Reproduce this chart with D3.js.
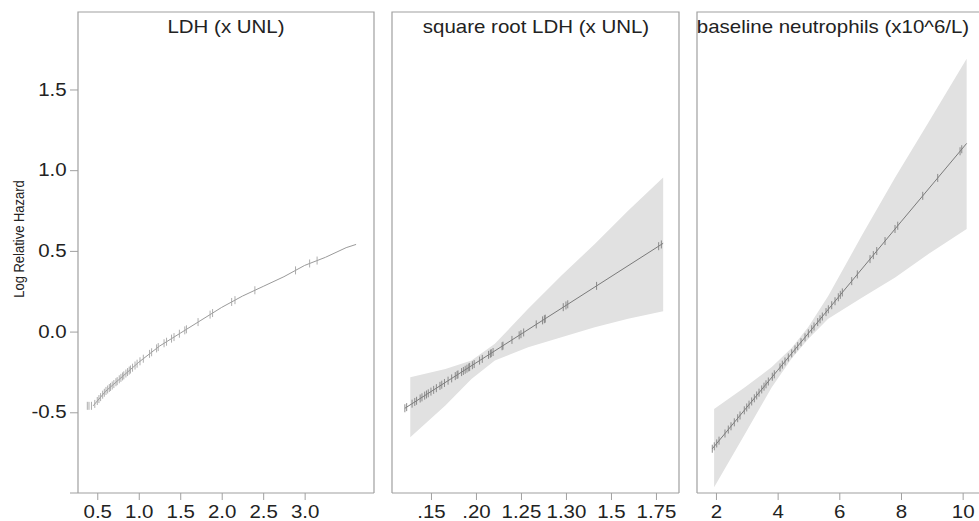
<!DOCTYPE html>
<html>
<head>
<meta charset="utf-8">
<script src="https://cdnjs.cloudflare.com/ajax/libs/d3/7.8.5/d3.min.js"></script>
<style>
  html, body { margin: 0; padding: 0; background: #fff; }
  svg { display: block; }
  text { font-family: "Liberation Sans", Arial, sans-serif; fill: #222; }
</style>
</head>
<body>
<div class="container"></div>
<script>
// shared y axis
const yTicks = [-0.5, 0.0, 0.5, 1.0, 1.5];
const yTitle = 'Log Relative Hazard';
const panelTitles = ['LDH (x UNL)', 'square root LDH (x UNL)', 'baseline neutrophils (x10^6/L)'];

// panel 1: LDH
const ldhTicks = [0.5, 1.0, 1.5, 2.0, 2.5, 3.0];
const ldhCurve = [[0.45,-0.46],[0.6,-0.37],[0.8,-0.28],[1.0,-0.19],[1.25,-0.09],[1.5,-0.01],[1.75,0.07],
  [2.0,0.15],[2.25,0.22],[2.5,0.28],[2.75,0.34],[3.0,0.41],[3.25,0.46],[3.5,0.52],[3.62,0.54]];
const ldhRug = [0.38,0.40,0.43,0.47,0.50,0.52,0.54,0.565,0.585,0.605,0.625,0.645,0.66,0.68,0.70,0.725,0.74,
  0.765,0.785,0.805,0.82,0.845,0.865,0.885,0.90,0.925,0.955,0.98,1.015,1.055,1.13,1.155,1.215,1.235,1.305,
  1.335,1.395,1.425,1.49,1.555,1.575,1.715,1.86,1.89,2.12,2.16,2.40,2.89,3.06,3.15];

// panel 2: square root LDH
const sqrtTicks = [1.15, 1.20, 1.25, 1.30, 1.35, 1.40];
const sqrtTickLabels = ['.15', '.20', '1.25', '1.30', '1.5', '1.75'];
const sqrtLine = [[1.121,-0.475],[1.2,-0.194],[1.3,0.162],[1.408,0.547]];
const sqrtBandX = [1.127, 1.166, 1.195, 1.221, 1.258, 1.295, 1.332, 1.369, 1.408];
const sqrtUpper = [-0.283, -0.231, -0.179, -0.076, 0.141, 0.347, 0.543, 0.749, 0.955];
const sqrtLower = [-0.654, -0.458, -0.293, -0.179, -0.097, -0.035, 0.027, 0.079, 0.126];
const sqrtRug = [1.121,1.123,1.129,1.132,1.134,1.138,1.140,1.143,1.145,1.147,1.150,1.153,1.156,1.160,1.162,
  1.165,1.169,1.173,1.177,1.179,1.180,1.184,1.186,1.188,1.190,1.192,1.193,1.196,1.198,1.204,1.207,1.214,
  1.216,1.217,1.219,1.229,1.230,1.240,1.248,1.250,1.253,1.267,1.274,1.276,1.277,1.297,1.300,1.302,1.334,
  1.403,1.406];

// panel 3: baseline neutrophils
const neutTicks = [2, 4, 6, 8, 10];
const neutLine = [[1.88,-0.726],[4,-0.24],[6,0.22],[8,0.68],[10.13,1.166]];
const neutBandX = [1.94, 2.94, 3.81, 4.46, 5.0, 5.64, 6.73, 7.81, 8.89, 10.13];
const neutUpper = [-0.48, -0.345, -0.22, -0.10, 0.03, 0.22, 0.595, 0.955, 1.295, 1.69];
const neutLower = [-0.965, -0.635, -0.345, -0.165, -0.045, 0.08, 0.21, 0.335, 0.48, 0.635];
const neutRug = [1.881,1.946,2.024,2.099,2.293,2.400,2.488,2.595,2.705,2.780,2.919,2.997,3.072,3.159,3.244,
  3.321,3.396,3.484,3.558,3.623,3.698,3.827,3.892,4.077,4.152,4.239,4.346,4.457,4.564,4.651,4.758,4.888,
  4.995,5.105,5.180,5.300,5.375,5.449,5.569,5.644,5.754,5.861,5.968,6.033,6.098,6.403,6.584,6.996,7.103,
  7.214,7.483,7.807,7.895,8.706,9.192,9.916,9.971];

const config = {w: 979, h: 521, top: 12, bottom: 493, stretch: 1.17, font: 17.5};

const panels = [
  {left: 78, right: 374, domain: [0.2676, 3.836], titleX: 226, ticks: ldhTicks,
   fmt: d => d.toFixed(1), line: ldhCurve, rug: ldhRug, lineColor: '#9a9a9a', rugColor: '#a5a5a5'},
  {left: 392, right: 679, domain: [1.1067, 1.4256], titleX: 536, ticks: sqrtTicks,
   fmt: (d, i) => sqrtTickLabels[i], line: sqrtLine, rug: sqrtRug, lineColor: '#7a7a7a', rugColor: '#808080',
   band: {x: sqrtBandX, upper: sqrtUpper, lower: sqrtLower}},
  {left: 697, right: 983, domain: [1.385, 10.66], titleX: 833, ticks: neutTicks,
   fmt: d => String(d), line: neutLine, rug: neutRug, lineColor: '#7a7a7a', rugColor: '#808080',
   band: {x: neutBandX, upper: neutUpper, lower: neutLower}}
];

const svg = d3.select('.container').append('svg')
  .attr('width', config.w)
  .attr('height', config.h);

const y = d3.scaleLinear()
  .domain([-1.0, 1.98])
  .range([config.bottom, config.top]);

panels.forEach(drawPanel);
drawYAxis();

function drawPanel(p, i) {
  const g = svg.append('g');
  const x = d3.scaleLinear().domain(p.domain).range([p.left, p.right]);

  if (p.band) {
    const area = d3.area()
      .x(d => x(d[0]))
      .y0(d => y(d[2]))
      .y1(d => y(d[1]));
    g.append('path')
      .datum(d3.zip(p.band.x, p.band.upper, p.band.lower))
      .attr('d', area)
      .attr('fill', '#e1e1e1');
  }

  g.append('path')
    .datum(p.line)
    .attr('d', d3.line().x(d => x(d[0])).y(d => y(d[1])))
    .attr('fill', 'none')
    .attr('stroke', p.lineColor)
    .attr('stroke-width', 1);

  // rug ticks sit on the fitted line
  const along = d3.scaleLinear()
    .domain(p.line.map(d => d[0]))
    .range(p.line.map(d => d[1]))
    .clamp(true);

  g.selectAll('line.rug')
    .data(p.rug)
    .enter().append('line')
      .attr('class', 'rug')
      .attr('x1', d => x(d)).attr('x2', d => x(d))
      .attr('y1', d => y(along(d)) - 4)
      .attr('y2', d => y(along(d)) + 4)
      .attr('stroke', p.rugColor)
      .attr('stroke-width', 0.9);

  // frame: left, top, right, then bottom axis line
  g.append('path')
    .attr('d', `M${p.left},${config.bottom}V${config.top}H${p.right}V${config.bottom}`)
    .attr('fill', 'none')
    .attr('stroke', '#a0a0a0')
    .attr('stroke-width', 1.2);
  g.append('line')
    .attr('x1', i === 0 ? p.left - 8 : p.left).attr('x2', p.right)
    .attr('y1', config.bottom).attr('y2', config.bottom)
    .attr('stroke', '#a0a0a0')
    .attr('stroke-width', 1.2);

  const ax = g.append('g')
    .attr('transform', `translate(0,${config.bottom})`)
    .call(d3.axisBottom(x)
      .tickValues(p.ticks)
      .tickSize(7)
      .tickPadding(6)
      .tickFormat(p.fmt));
  ax.select('.domain').remove();
  ax.selectAll('.tick line').attr('stroke', '#a0a0a0');
  ax.selectAll('.tick text')
    .attr('font-family', '"Liberation Sans", Arial, sans-serif')
    .attr('font-size', config.font)
    .attr('fill', '#222')
    .attr('transform', `scale(${config.stretch},1)`);

  g.append('text')
    .attr('transform', `translate(${p.titleX},33) scale(${config.stretch},1)`)
    .attr('text-anchor', 'middle')
    .attr('font-size', config.font)
    .attr('fill', '#333')
    .text(panelTitles[i]);
}

function drawYAxis() {
  const ay = svg.append('g')
    .attr('transform', `translate(${panels[0].left},0)`)
    .call(d3.axisLeft(y)
      .tickValues(yTicks)
      .tickSize(8)
      .tickPadding(1.7)
      .tickFormat(d => d.toFixed(1)));
  ay.select('.domain').remove();
  ay.selectAll('.tick line').attr('stroke', '#a0a0a0');
  ay.selectAll('.tick text')
    .attr('font-family', '"Liberation Sans", Arial, sans-serif')
    .attr('font-size', config.font)
    .attr('fill', '#222')
    .attr('transform', `scale(${config.stretch},1)`);

  svg.append('text')
    .attr('transform', `translate(19,239) rotate(-90) scale(1,${config.stretch})`)
    .attr('text-anchor', 'middle')
    .attr('dy', '0.35em')
    .attr('font-size', 13)
    .attr('fill', '#333')
    .text(yTitle);
}
</script>
</body>
</html>
